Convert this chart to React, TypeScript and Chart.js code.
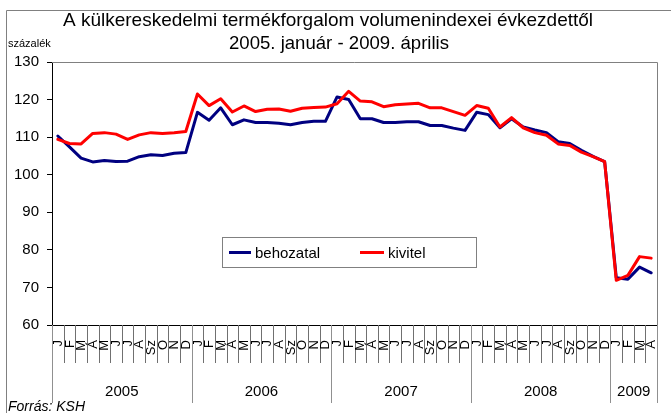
import { useEffect, useRef } from "react";
import { Chart, registerables } from "chart.js";

Chart.register(...registerables);

const monthLabels = ["J", "F", "M", "Á", "M", "J", "J", "A", "Sz", "O", "N", "D"];
const years = ["2005", "2006", "2007", "2008", "2009"];
const monthsInYear = [12, 12, 12, 12, 4];

const behozatal = [
  110.3, 107.4, 104.4, 103.4, 103.8, 103.5, 103.6, 104.8, 105.3, 105.1, 105.7, 105.9,
  116.6, 114.5, 117.8, 113.3, 114.6, 113.9, 113.9, 113.7, 113.3, 113.9, 114.2, 114.2,
  120.7, 120.0, 114.9, 114.9, 113.9, 113.9, 114.1, 114.1, 113.1, 113.1, 112.4, 111.8,
  116.6, 116.0, 112.5, 114.9, 112.7, 111.9, 111.2, 108.8, 108.3, 106.5, 104.9, 103.5,
  72.6, 72.2, 75.4, 73.9,
];
const kivitel = [
  109.4, 108.3, 108.2, 111.0, 111.2, 110.8, 109.4, 110.6, 111.2, 111.0, 111.2, 111.5,
  121.5, 118.4, 120.2, 116.7, 118.3, 116.8, 117.4, 117.5, 116.9, 117.7, 117.9, 118.0,
  118.9, 122.2, 119.6, 119.4, 118.1, 118.6, 118.8, 119.0, 117.8, 117.8, 116.8, 115.8,
  118.4, 117.7, 112.7, 115.2, 112.5, 111.2, 110.5, 108.2, 107.8, 106.0, 104.8, 103.5,
  71.9, 73.2, 78.2, 77.8,
];
const yTicks = [60, 70, 80, 90, 100, 110, 120, 130];

const titleLines = [
  "A külkereskedelmi termékforgalom volumenindexei évkezdettől",
  "2005. január - 2009. április",
];
const unitLabel = "százalék";
const sourceLabel = "Forrás: KSH";
const seriesNames = ["behozatal", "kivitel"];

const categories: string[] = [];
const categoryMonth: string[] = [];
years.forEach((y, yi) => {
  for (let m = 0; m < monthsInYear[yi]; m++) {
    categories.push(y + " " + monthLabels[m]);
    categoryMonth.push(monthLabels[m]);
  }
});

const FONT = "'Liberation Sans', Arial, Helvetica, sans-serif";
const BLUE = "#000080";
const RED = "#FF0000";

const decorPlugin = {
  id: "decor",
  afterDraw(chart: any) {
    const ctx = chart.ctx as CanvasRenderingContext2D;
    const area = chart.chartArea;
    const xs = chart.scales.x;
    ctx.save();

    // outer frame
    ctx.strokeStyle = "#808080";
    ctx.lineWidth = 1;
    ctx.beginPath();
    ctx.moveTo(6.5, 413);
    ctx.lineTo(6.5, 10.5);
    ctx.lineTo(671, 10.5);
    ctx.stroke();

    // plot top/right border
    ctx.beginPath();
    ctx.moveTo(area.left, Math.round(area.top) + 0.5);
    ctx.lineTo(Math.round(area.right) + 0.5, Math.round(area.top) + 0.5);
    ctx.lineTo(Math.round(area.right) + 0.5, area.bottom);
    ctx.stroke();

    // category axis ticks & labels
    const n = categories.length;
    const step = n > 1 ? xs.getPixelForValue(1) - xs.getPixelForValue(0) : xs.width;
    const bottom = Math.round(area.bottom);
    const yearStarts: number[] = [];
    let acc = 0;
    monthsInYear.forEach((c) => {
      yearStarts.push(acc);
      acc += c;
    });
    yearStarts.push(acc);
    for (let i = 0; i <= n; i++) {
      const x = Math.round(xs.getPixelForValue(i) - step / 2) + 0.5;
      const isYear = yearStarts.indexOf(i) >= 0;
      ctx.strokeStyle = isYear ? "#909090" : "#707070";
      ctx.beginPath();
      ctx.moveTo(x, bottom);
      ctx.lineTo(x, isYear ? bottom + 78 : bottom + 38);
      ctx.stroke();
    }
    ctx.fillStyle = "#000";
    ctx.font = "13px " + FONT;
    ctx.textAlign = "right";
    ctx.textBaseline = "middle";
    for (let i = 0; i < n; i++) {
      const x = xs.getPixelForValue(i);
      ctx.save();
      ctx.translate(x + 0.5, bottom + 15);
      ctx.rotate(-Math.PI / 2);
      ctx.fillText(categoryMonth[i], 0, 0);
      ctx.restore();
    }
    // years
    ctx.font = "15px " + FONT;
    ctx.textAlign = "center";
    ctx.textBaseline = "alphabetic";
    years.forEach((y, yi) => {
      const a = xs.getPixelForValue(yearStarts[yi]) - step / 2;
      const b = xs.getPixelForValue(yearStarts[yi + 1] - 1) + step / 2;
      ctx.fillText(y, (a + b) / 2, bottom + 71);
    });

    // title
    ctx.font = "19px " + FONT;
    ctx.textAlign = "center";
    ctx.fillText(titleLines[0], 328, 26, 532);
    ctx.fillText(titleLines[1], 339, 49, 220);

    // unit
    ctx.font = "11px " + FONT;
    ctx.textAlign = "left";
    ctx.fillText(unitLabel, 8, 47);

    // source
    ctx.font = "italic 14px " + FONT;
    ctx.fillText(sourceLabel, 8, 411);

    // legend
    const lx = 222.5, ly = 237.5, lw = 254, lh = 30;
    ctx.fillStyle = "#fff";
    ctx.fillRect(lx, ly, lw, lh);
    ctx.strokeStyle = "#808080";
    ctx.strokeRect(lx, ly, lw, lh);
    const my = ly + lh / 2;
    ctx.lineWidth = 3;
    ctx.strokeStyle = BLUE;
    ctx.beginPath();
    ctx.moveTo(229, my);
    ctx.lineTo(251, my);
    ctx.stroke();
    ctx.strokeStyle = RED;
    ctx.beginPath();
    ctx.moveTo(360, my);
    ctx.lineTo(384, my);
    ctx.stroke();
    ctx.fillStyle = "#000";
    ctx.font = "15px " + FONT;
    ctx.textBaseline = "middle";
    ctx.fillText(seriesNames[0], 255, my + 1);
    ctx.fillText(seriesNames[1], 388, my + 1);

    ctx.restore();
  },
};

export default function App() {
  const ref = useRef<HTMLCanvasElement | null>(null);
  useEffect(() => {
    if (!ref.current) return;
    const chart = new Chart(ref.current, {
      type: "line",
      data: {
        labels: categories,
        datasets: [
          {
            label: seriesNames[0],
            data: behozatal,
            borderColor: BLUE,
            backgroundColor: BLUE,
            borderWidth: 3,
            pointRadius: 0,
            tension: 0,
            borderJoinStyle: "round",
            borderCapStyle: "round",
            order: 2,
          },
          {
            label: seriesNames[1],
            data: kivitel,
            borderColor: RED,
            backgroundColor: RED,
            borderWidth: 3,
            pointRadius: 0,
            tension: 0,
            borderJoinStyle: "round",
            borderCapStyle: "round",
            order: 1,
          },
        ],
      },
      options: {
        responsive: false,
        animation: false,
        devicePixelRatio: 1,
        layout: { padding: { top: 62, right: 14, bottom: 88, left: 0 } },
        plugins: {
          legend: { display: false },
          title: { display: false },
          tooltip: { enabled: false },
        },
        scales: {
          x: {
            type: "category",
            offset: true,
            grid: { display: false, offset: true },
            ticks: { display: false },
            border: { display: true, color: "#000", width: 1 },
            afterFit: (s: any) => {
              s.height = 0;
            },
          },
          y: {
            min: yTicks[0],
            max: yTicks[yTicks.length - 1],
            afterBuildTicks: (s: any) => {
              s.ticks = yTicks.map((v) => ({ value: v }));
            },
            ticks: {
              color: "#000",
              padding: 8,
              font: { family: FONT, size: 15 },
            },
            grid: {
              drawOnChartArea: false,
              drawTicks: true,
              tickLength: 5,
              color: "#000",
            },
            border: { display: true, color: "#000", width: 1 },
            afterFit: (s: any) => {
              s.width = 52;
            },
          },
        },
      },
      plugins: [decorPlugin],
    });
    return () => chart.destroy();
  }, []);
  return (
    <div style={{ position: "fixed", left: 0, top: 0, width: 671, height: 413, background: "#fff" }}>
      <canvas ref={ref} width={671} height={413} style={{ display: "block" }} />
    </div>
  );
}
